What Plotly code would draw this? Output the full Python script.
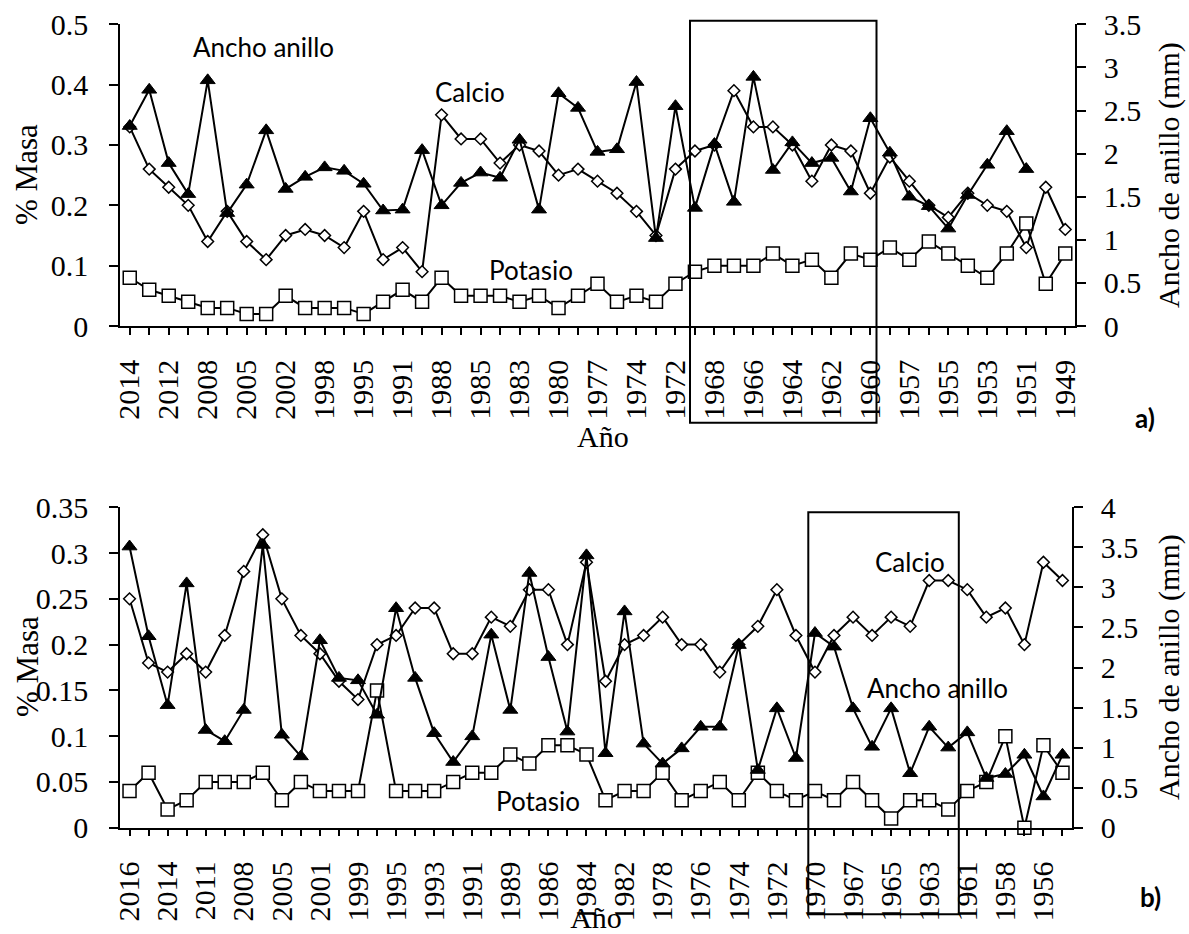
import plotly.graph_objects as go

W, H = 1189, 934

# ---------------- Panel a) ----------------
years_a = [2014, 2013, 2012, 2010, 2008, 2006, 2005, 2003, 2002, 2000, 1998, 1997, 1995, 1993,
           1991, 1989, 1988, 1986, 1985, 1984, 1983, 1981, 1980, 1978, 1977, 1975, 1974, 1973,
           1972, 1970, 1968, 1967, 1966, 1965, 1964, 1963, 1962, 1961, 1960, 1958, 1957, 1956,
           1955, 1954, 1953, 1952, 1951, 1950, 1949]
calcio_a = [0.33, 0.26, 0.23, 0.20, 0.14, 0.19, 0.14, 0.11, 0.15, 0.16, 0.15, 0.13, 0.19, 0.11,
            0.13, 0.09, 0.35, 0.31, 0.31, 0.27, 0.30, 0.29, 0.25, 0.26, 0.24, 0.22, 0.19, 0.15,
            0.26, 0.29, 0.30, 0.39, 0.33, 0.33, 0.30, 0.24, 0.30, 0.29, 0.22, 0.28, 0.24, 0.20,
            0.18, 0.22, 0.20, 0.19, 0.13, 0.23, 0.16]
potasio_a = [0.08, 0.06, 0.05, 0.04, 0.03, 0.03, 0.02, 0.02, 0.05, 0.03, 0.03, 0.03, 0.02, 0.04,
             0.06, 0.04, 0.08, 0.05, 0.05, 0.05, 0.04, 0.05, 0.03, 0.05, 0.07, 0.04, 0.05, 0.04,
             0.07, 0.09, 0.10, 0.10, 0.10, 0.12, 0.10, 0.11, 0.08, 0.12, 0.11, 0.13, 0.11, 0.14,
             0.12, 0.10, 0.08, 0.12, 0.17, 0.07, 0.12]
anillo_a = [2.32, 2.74, 1.89, 1.53, 2.85, 1.31, 1.64, 2.27, 1.59, 1.73, 1.84, 1.80, 1.65, 1.34,
            1.35, 2.04, 1.40, 1.66, 1.78, 1.72, 2.16, 1.35, 2.70, 2.53, 2.02, 2.05, 2.83, 1.02,
            2.55, 1.37, 2.11, 1.44, 2.89, 1.81, 2.13, 1.89, 1.95, 1.56, 2.41, 2.01, 1.50, 1.39,
            1.13, 1.52, 1.87, 2.26, 1.82, None, None]
left_ticks_a = [0, 0.1, 0.2, 0.3, 0.4, 0.5]
left_text_a = ["0", "0.1", "0.2", "0.3", "0.4", "0.5"]
right_ticks_a = [0, 0.5, 1, 1.5, 2, 2.5, 3, 3.5]
right_text_a = ["0", "0.5", "1", "1.5", "2", "2.5", "3", "3.5"]

# ---------------- Panel b) ----------------
years_b = [2016, 2015, 2014, 2012, 2011, 2009, 2008, 2006, 2005, 2003, 2001, 2000, 1999, 1997,
           1995, 1994, 1993, 1992, 1991, 1990, 1989, 1987, 1986, 1985, 1984, 1983, 1982, 1980,
           1978, 1977, 1976, 1975, 1974, 1973, 1972, 1971, 1970, 1968, 1967, 1966, 1965, 1964,
           1963, 1962, 1961, 1960, 1958, 1957, 1956, 1955]
calcio_b = [0.25, 0.18, 0.17, 0.19, 0.17, 0.21, 0.28, 0.32, 0.25, 0.21, 0.19, 0.16, 0.14, 0.20,
            0.21, 0.24, 0.24, 0.19, 0.19, 0.23, 0.22, 0.26, 0.26, 0.20, 0.29, 0.16, 0.20, 0.21,
            0.23, 0.20, 0.20, 0.17, 0.20, 0.22, 0.26, 0.21, 0.17, 0.21, 0.23, 0.21, 0.23, 0.22,
            0.27, 0.27, 0.26, 0.23, 0.24, 0.20, 0.29, 0.27]
potasio_b = [0.04, 0.06, 0.02, 0.03, 0.05, 0.05, 0.05, 0.06, 0.03, 0.05, 0.04, 0.04, 0.04, 0.15,
             0.04, 0.04, 0.04, 0.05, 0.06, 0.06, 0.08, 0.07, 0.09, 0.09, 0.08, 0.03, 0.04, 0.04,
             0.06, 0.03, 0.04, 0.05, 0.03, 0.06, 0.04, 0.03, 0.04, 0.03, 0.05, 0.03, 0.01, 0.03,
             0.03, 0.02, 0.04, 0.05, 0.10, 0.00, 0.09, 0.06]
anillo_b = [3.51, 2.39, 1.53, 3.05, 1.22, 1.08, 1.47, 3.53, 1.16, 0.89, 2.34, 1.87, 1.84, 1.41,
            2.74, 1.87, 1.18, 0.82, 1.14, 2.41, 1.47, 3.18, 2.13, 1.20, 3.40, 0.93, 2.70, 1.05,
            0.80, 0.99, 1.26, 1.26, 2.28, 0.72, 1.49, 0.87, 2.43, 2.26, 1.49, 1.01, 1.49, 0.68,
            1.26, 1.00, 1.19, 0.62, 0.67, 0.91, 0.39, 0.91]
left_ticks_b = [0, 0.05, 0.1, 0.15, 0.2, 0.25, 0.3, 0.35]
left_text_b = ["0", "0.05", "0.1", "0.15", "0.2", "0.25", "0.3", "0.35"]
right_ticks_b = [0, 0.5, 1, 1.5, 2, 2.5, 3, 3.5, 4]
right_text_b = ["0", "0.5", "1", "1.5", "2", "2.5", "3", "3.5", "4"]


def fx(px):
    return px / W


def fy(py):
    return 1 - py / H


SERIF = "Liberation Serif"
SANS = "Lato"

xa = [str(y) for y in years_a]
xb = [str(y) for y in years_b]
ttext_a = [s if i % 2 == 0 else "" for i, s in enumerate(xa)]
ttext_b = [s if i % 2 == 0 else "" for i, s in enumerate(xb)]

LINE = dict(color="black", width=2)
sq = dict(symbol="square", size=13, color="white", line=dict(color="black", width=1.5))
dm = dict(symbol="diamond", size=9, color="white", line=dict(color="black", width=1.5))
tr = dict(symbol="triangle-up", size=13, color="black", line=dict(color="black", width=1))

fig = go.Figure()
# panel a
fig.add_trace(go.Scatter(x=xa, y=potasio_a, mode="lines+markers", line=LINE, marker=sq,
                         xaxis="x", yaxis="y", cliponaxis=False, name="Potasio"))
fig.add_trace(go.Scatter(x=xa, y=calcio_a, mode="lines+markers", line=LINE, marker=dm,
                         xaxis="x", yaxis="y", cliponaxis=False, name="Calcio"))
fig.add_trace(go.Scatter(x=xa, y=anillo_a, mode="lines+markers", line=LINE, marker=tr,
                         xaxis="x", yaxis="y2", cliponaxis=False, name="Ancho anillo"))
# panel b
fig.add_trace(go.Scatter(x=xb, y=potasio_b, mode="lines+markers", line=LINE, marker=sq,
                         xaxis="x2", yaxis="y3", cliponaxis=False, name="Potasio"))
fig.add_trace(go.Scatter(x=xb, y=calcio_b, mode="lines+markers", line=LINE, marker=dm,
                         xaxis="x2", yaxis="y3", cliponaxis=False, name="Calcio"))
fig.add_trace(go.Scatter(x=xb, y=anillo_b, mode="lines+markers", line=LINE, marker=tr,
                         xaxis="x2", yaxis="y4", cliponaxis=False, name="Ancho anillo"))


def axis_style(**kw):
    d = dict(showline=True, linecolor="black", linewidth=1.5, showgrid=False,
             zeroline=False, ticks="outside", tickcolor="black", tickwidth=1.5,
             automargin=False, tickfont=dict(family=SERIF, size=30, color="black"))
    d.update(kw)
    return d


def xstyle(**kw):
    return axis_style(type="category", tickmode="array", tickangle=-90, ticklen=7,
                      ticklabelstandoff=13, **kw)


def ystyle(standoff, **kw):
    return axis_style(tickmode="array", ticklen=9, ticklabelstandoff=standoff, **kw)


fig.update_layout(
    width=W, height=H, margin=dict(l=0, r=0, t=0, b=0),
    paper_bgcolor="white", plot_bgcolor="white", showlegend=False,
    font=dict(family=SERIF, size=30, color="black"),
    xaxis=xstyle(domain=[fx(120), fx(1075)], anchor="y", range=[-0.5, 48.5],
                 tickvals=xa, ticktext=ttext_a),
    yaxis=ystyle(15, domain=[fy(326), fy(24.3)], anchor="x", range=[0, 0.5],
                 tickvals=left_ticks_a, ticktext=left_text_a),
    yaxis2=ystyle(12, overlaying="y", side="right", anchor="x", range=[0, 3.5],
                  tickvals=right_ticks_a, ticktext=right_text_a),
    xaxis2=xstyle(domain=[fx(120), fx(1072)], anchor="y3", range=[-0.5, 49.5],
                  tickvals=xb, ticktext=ttext_b,
                  title=dict(text="Año", standoff=0,
                             font=dict(family=SERIF, size=30, color="black"))),
    yaxis3=ystyle(15, domain=[fy(827.7), fy(507.3)], anchor="x2", range=[0, 0.35],
                  tickvals=left_ticks_b, ticktext=left_text_b),
    yaxis4=ystyle(12, overlaying="y3", side="right", anchor="x2", range=[0, 4],
                  tickvals=right_ticks_b, ticktext=right_text_b),
)


def ann(text, px, py, family, size, angle=0):
    fig.add_annotation(text=text, x=fx(px), y=fy(py), xref="paper", yref="paper",
                       showarrow=False, xanchor="center", yanchor="middle", textangle=angle,
                       font=dict(family=family, size=size, color="black"))


# axis titles
ann("% Masa", 27, 175, SERIF, 31, -90)
ann("Ancho de anillo (mm)", 1169, 175, SERIF, 30, -90)
ann("Año", 603, 436, SERIF, 30)
ann("% Masa", 27, 667, SERIF, 31, -90)
ann("Ancho de anillo (mm)", 1169, 667, SERIF, 30, -90)

# series labels
ann("Ancho anillo", 263, 47, SANS, 26)
ann("Calcio", 470, 92, SANS, 26)
ann("Potasio", 531, 270, SANS, 26)
ann("Calcio", 910, 562, SANS, 26)
ann("Ancho anillo", 937, 688, SANS, 26)
ann("Potasio", 538, 801, SANS, 26)
ann("<b>a)</b>", 1145, 418, SANS, 26)
ann("<b>b)</b>", 1150, 897, SANS, 26)

# highlighted period boxes
for x0, x1, y0, y1 in [(690, 876.5, 20.7, 422.7), (808.3, 958.8, 512.3, 914.3)]:
    fig.add_shape(type="rect", xref="paper", yref="paper", x0=fx(x0), x1=fx(x1),
                  y0=fy(y1), y1=fy(y0), line=dict(color="black", width=2),
                  fillcolor="rgba(0,0,0,0)")

fig.write_html("out.html")
